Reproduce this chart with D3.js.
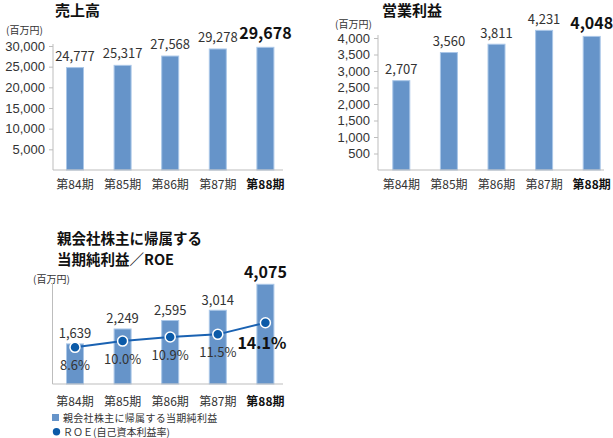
<!DOCTYPE html>
<html><head><meta charset="utf-8">
<script src="https://cdn.jsdelivr.net/npm/d3@7"></script>
<style>
body{margin:0;background:#fff;}
svg{display:block;font-family:"Noto Sans CJK JP","Noto Sans",sans-serif;}
</style></head><body>
<svg id="c" width="613" height="438"></svg>
<script>
const periods = ["第84期","第85期","第86期","第87期","第88期"];
const sales = [24777, 25317, 27568, 29278, 29678];
const salesTicks = [5000, 10000, 15000, 20000, 25000, 30000];
const opProfit = [2707, 3560, 3811, 4231, 4048];
const opTicks = [500, 1000, 1500, 2000, 2500, 3000, 3500, 4000];
const netIncome = [1639, 2249, 2595, 3014, 4075];
const roe = [8.6, 10.0, 10.9, 11.5, 14.1];

const svg = d3.select("#c");
const BAR = "#6694c9", BAR_EDGE = "#aac7e8", TXT = "#333", AX = "#bdbdbd";
const fmt = d3.format(",");

function barChart(o){
  const g = svg.append("g");
  const x = d3.scalePoint().domain(periods).range(o.xr).padding(0.5);
  const y = d3.scaleLinear().domain(o.yd).range(o.yr);
  o.title.forEach((t,i)=>g.append("text").attr("x",o.tx).attr("y",o.ty+i*21)
    .attr("font-size",o.tfs).attr("font-weight","bold").attr("fill","#111").text(t));
  g.append("text").attr("x",o.ux).attr("y",o.uy).attr("font-size",10).attr("fill",TXT).text("(百万円)");
  g.selectAll("rect.b").data(o.vals).join("rect")
    .attr("x",(d,i)=>x(periods[i])-8.5).attr("width",17)
    .attr("y",d=>y(d)).attr("height",d=>y(0)-y(d))
    .attr("fill",BAR).attr("stroke",BAR_EDGE).attr("stroke-width",1);
  if(o.ticks){
    const ax = d3.axisLeft(y).tickValues(o.ticks).tickSize(4).tickPadding(4).tickFormat(fmt);
    const a = g.append("g").attr("transform",`translate(${o.ax},0)`).call(ax);
    a.select(".domain").remove();
    a.selectAll("line").attr("stroke",AX);
    a.selectAll("text").attr("font-size",13).attr("fill",TXT).attr("font-family","inherit");
  }
  g.append("line").attr("x1",o.ax).attr("x2",o.ax).attr("y1",o.axTop).attr("y2",y(0)).attr("stroke",AX);
  g.append("line").attr("x1",o.ax).attr("x2",o.axRight).attr("y1",y(0)).attr("y2",y(0)).attr("stroke",AX);
  g.selectAll("text.cat").data(periods).join("text")
    .attr("x",d=>x(d)).attr("y",o.catY).attr("text-anchor","middle")
    .attr("font-size",12).attr("fill",(d,i)=>i===4?"#111":TXT)
    .attr("font-weight",(d,i)=>i===4?"bold":"normal").text(d=>d);
  g.selectAll("text.v").data(o.vals).join("text")
    .attr("x",(d,i)=>x(periods[i])).attr("y",(d,i)=>y(d)-(i===4?o.off[1]:o.off[0]))
    .attr("text-anchor","middle")
    .attr("font-size",(d,i)=>i===4?16:13).attr("font-weight",(d,i)=>i===4?"bold":"normal")
    .attr("fill",(d,i)=>i===4?"#111":TXT).text(d=>fmt(d));
  return {g,x,y};
}

barChart({title:["売上高"],tx:55,ty:15.5,tfs:15,ux:6,uy:33.5,xr:[51.2,289.2],yd:[0,30000],yr:[170,46],
  ticks:salesTicks,ax:53,axTop:44,axRight:283,catY:188.5,vals:sales,off:[7,8]});

barChart({title:["営業利益"],tx:382,ty:15.5,tfs:15,ux:335,uy:27.5,xr:[377.5,615.5],yd:[0,4000],yr:[170,38],
  ticks:opTicks,ax:378,axTop:35,axRight:604,catY:188.5,vals:opProfit,off:[6.5,7.5]});

const c3 = barChart({title:["親会社株主に帰属する","当期純利益／ROE"],tx:57,ty:243.5,tfs:14.5,ux:33,uy:282.5,
  xr:[51.2,289.2],yd:[0,4075],yr:[384,284.3],ticks:null,ax:52.5,axTop:283,axRight:283,catY:406,
  vals:netIncome,off:[5.5,6.5]});

const yr = d3.scaleLinear().domain([0,22.6]).range([385.8,284.7]);
const line = d3.line().x((d,i)=>c3.x(periods[i])).y(d=>yr(d));
c3.g.append("path").datum(roe).attr("d",line).attr("fill","none").attr("stroke","#1a62b2").attr("stroke-width",2);
c3.g.selectAll("circle.r").data(roe).join("circle")
  .attr("cx",(d,i)=>c3.x(periods[i])).attr("cy",d=>yr(d)).attr("r",5)
  .attr("fill","#0b5aa8").attr("stroke","#fff").attr("stroke-width",1.5);
c3.g.selectAll("text.r").data(roe).join("text")
  .attr("x",(d,i)=>c3.x(periods[i])-(i===4?3.5:0)).attr("y",(d,i)=>yr(d)+(i===4?26.6:23))
  .attr("text-anchor","middle")
  .attr("font-size",(d,i)=>i===4?16:13).attr("font-weight",(d,i)=>i===4?"bold":"normal")
  .attr("fill",(d,i)=>i===4?"#111":TXT).text(d=>d.toFixed(1)+"%");

const lg = svg.append("g");
lg.append("rect").attr("x",52).attr("y",414).attr("width",7).attr("height",7).attr("fill",BAR);
lg.append("text").attr("x",63).attr("y",421.5).attr("font-size",10).attr("letter-spacing",0.3).attr("fill",TXT).text("親会社株主に帰属する当期純利益");
lg.append("circle").attr("cx",56.5).attr("cy",431.7).attr("r",3.7).attr("fill","#0b5aa8");
lg.append("text").attr("x",63).attr("y",435.5).attr("font-size",10).attr("fill",TXT).text("ＲＯＥ(自己資本利益率)");
</script>
</body></html>
